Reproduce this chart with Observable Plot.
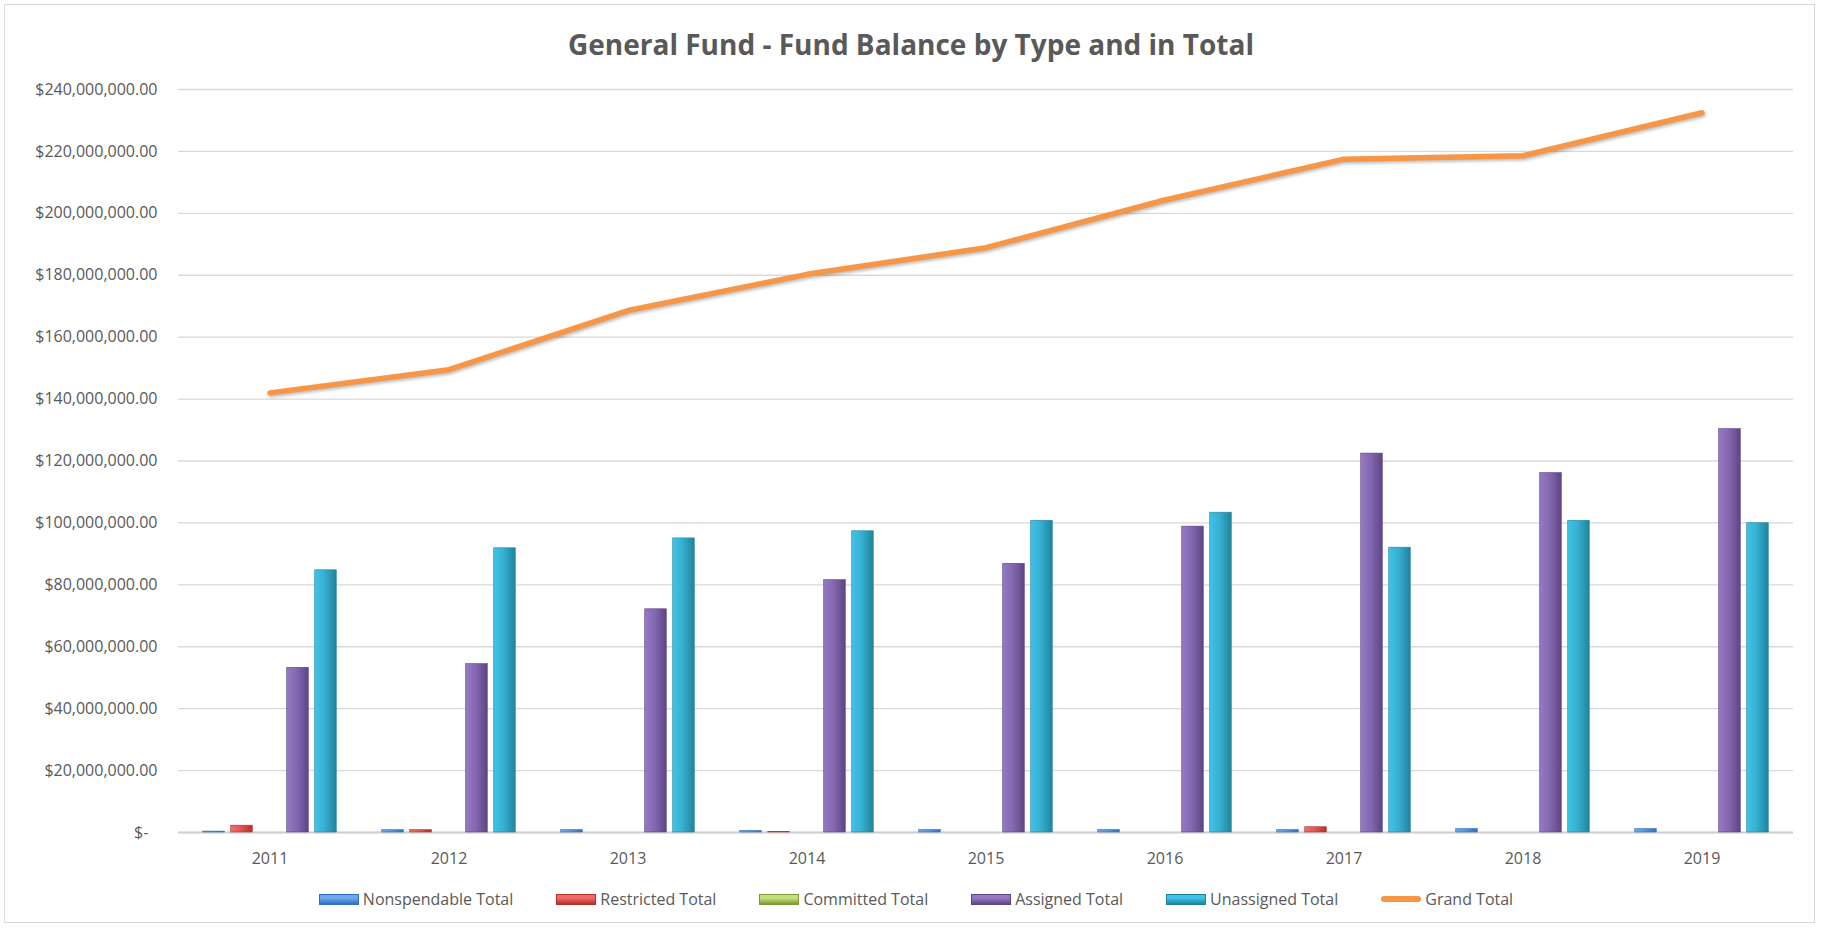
<!DOCTYPE html>
<html>
<head>
<meta charset="utf-8">
<script src="https://cdn.jsdelivr.net/npm/d3@7"></script>
<script src="https://cdn.jsdelivr.net/npm/@observablehq/plot@0.6"></script>
<style>
  html, body { margin: 0; padding: 0; background: #fff; }
  body { width: 1822px; height: 928px; position: relative; overflow: hidden; font-family: "Open Sans", sans-serif; color: #595959; }
  #frame { position: absolute; left: 4px; top: 4px; width: 1811px; height: 919px; border: 1.5px solid #d9d9d9; box-sizing: border-box; pointer-events: none; }
  #title { height: 70px; display: flex; align-items: center; justify-content: center; padding-top: 18px; box-sizing: border-box; font-weight: 700; font-size: 28px; color: #595959; }
  #chart svg { display: block; }
  #legend { height: 58px; display: flex; justify-content: center; align-items: center; gap: 43px; font-size: 16px; color: #595959; padding-left: 10px; box-sizing: border-box; }
  .item { display: flex; align-items: center; gap: 4px; }
  .sw { width: 40px; height: 11px; box-sizing: border-box; }
  .ln { width: 40px; height: 6px; border-radius: 3px; }
</style>
</head>
<body>
<div id="title">General Fund - Fund Balance by Type and in Total</div>
<div id="chart"></div>
<div id="legend"></div>
<div id="frame"></div>
<script>
// ---- Data (US dollars) ----
const years = ["2011", "2012", "2013", "2014", "2015", "2016", "2017", "2018", "2019"];
const nonspendable = [300000, 750000, 800000, 500000, 800000, 800000, 800000, 1100000, 1100000];
const restricted   = [2200000, 750000, 0, 200000, 0, 0, 1700000, 0, 0];
const committed    = [0, 0, 0, 0, 0, 0, 0, 0, 0];
const assigned     = [53200000, 54400000, 72100000, 81500000, 86800000, 98800000, 122400000, 116100000, 130300000];
const unassigned   = [84700000, 91800000, 95000000, 97300000, 100700000, 103300000, 92000000, 100700000, 99900000];
const grandTotal   = [142000000, 149500000, 168600000, 180300000, 188900000, 204300000, 217500000, 218600000, 232500000];
const yTicks = [0, 20e6, 40e6, 60e6, 80e6, 100e6, 120e6, 140e6, 160e6, 180e6, 200e6, 220e6, 240e6];

const seriesNames = ["Nonspendable Total", "Restricted Total", "Committed Total", "Assigned Total", "Unassigned Total"];
const seriesKeys = ["nonspendable", "restricted", "committed", "assigned", "unassigned"];
const seriesColors = [
  ["#6aa9ef", "#2f6fbd"],
  ["#f06b68", "#b52f2c"],
  ["#c3e07a", "#7d9a36"],
  ["#9479c4", "#5e4585"],
  ["#3fc3e8", "#21849c"]
];
const lineName = "Grand Total";
const lineColor = "#f79646";

const data = years.map((year, i) => ({
  year,
  nonspendable: nonspendable[i],
  restricted: restricted[i],
  committed: committed[i],
  assigned: assigned[i],
  unassigned: unassigned[i],
  grand: grandTotal[i]
}));

// ---- Layout ----
const W = 1822, H = 800;
const mL = 178, mR = 29, mT = 19, mB = 38;
const bandW = (W - mL - mR) / years.length;
const barW = 22, step = 28;
const inset = (bandW - barW) / 2;

const fmt = v => v === 0 ? "$-\u2007" : "$" + d3.format(",.2f")(v);

const plot = Plot.plot({
  width: W, height: H,
  marginLeft: mL, marginRight: mR, marginTop: mT, marginBottom: mB,
  style: { fontFamily: "Open Sans, sans-serif", fontSize: "16px", color: "#595959", background: "transparent" },
  x: { type: "band", domain: years, padding: 0, label: null },
  y: { domain: [0, 240e6], label: null },
  marks: [
    Plot.gridY(yTicks, { stroke: "#d9d9d9", strokeOpacity: 1, strokeWidth: 1.3 }),
    Plot.ruleY([0], { stroke: "#d0d0d0", strokeWidth: 2 }),
    ...seriesKeys.map((k, i) => Plot.barY(data, {
      x: "year", y: k,
      fill: `url(#grad${i})`,
      stroke: seriesColors[i][1], strokeWidth: 0.6,
      insetLeft: inset, insetRight: inset,
      dx: (i - 2) * step
    })),
    Plot.line(data, { x: "year", y: "grand", stroke: lineColor, strokeWidth: 5.5, strokeLinecap: "round", strokeLinejoin: "round" }),
    Plot.axisY(yTicks, { tickSize: 0, tickPadding: 21, tickFormat: fmt, fill: "#595959", label: null }),
    Plot.axisX({ tickSize: 0, tickPadding: 20, fill: "#595959", label: null })
  ]
});

const svg = d3.select(plot);
const defs = svg.insert("defs", ":first-child");
seriesColors.forEach(([light, dark], i) => {
  const g = defs.append("linearGradient").attr("id", `grad${i}`).attr("x1", 0).attr("y1", 0).attr("x2", 1).attr("y2", 0);
  g.append("stop").attr("offset", "0%").attr("stop-color", light);
  g.append("stop").attr("offset", "45%").attr("stop-color", d3.interpolateRgb(light, dark)(0.3));
  g.append("stop").attr("offset", "100%").attr("stop-color", dark);
});
svg.selectAll('g[aria-label="line"] path').style("filter", "drop-shadow(1px 2px 1.5px rgba(0,0,0,0.25))");
document.getElementById("chart").appendChild(plot);

// ---- Legend ----
const legend = d3.select("#legend");
seriesNames.forEach((name, i) => {
  const it = legend.append("div").attr("class", "item");
  it.append("div").attr("class", "sw")
    .style("background", `linear-gradient(to bottom, ${seriesColors[i][0]} 0%, ${seriesColors[i][0]} 35%, ${seriesColors[i][1]} 100%)`)
    .style("border", `1px solid ${seriesColors[i][1]}`);
  it.append("span").text(name);
});
const li = legend.append("div").attr("class", "item");
li.append("div").attr("class", "ln").style("background", lineColor);
li.append("span").text(lineName);
</script>
</body>
</html>
